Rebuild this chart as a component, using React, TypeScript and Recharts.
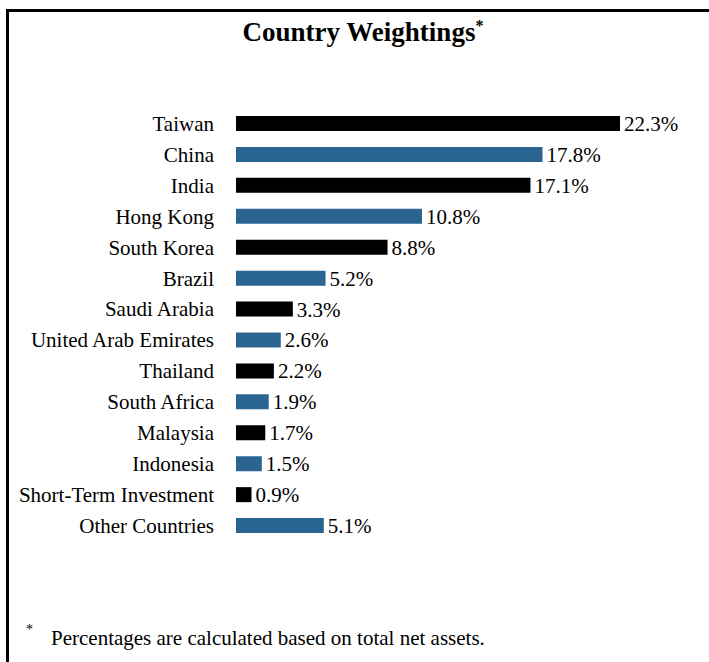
import { BarChart, Bar, XAxis, YAxis, Cell, LabelList } from 'recharts';

const countries = [
  'Taiwan',
  'China',
  'India',
  'Hong Kong',
  'South Korea',
  'Brazil',
  'Saudi Arabia',
  'United Arab Emirates',
  'Thailand',
  'South Africa',
  'Malaysia',
  'Indonesia',
  'Short-Term Investment',
  'Other Countries',
];

const weights = [22.3, 17.8, 17.1, 10.8, 8.8, 5.2, 3.3, 2.6, 2.2, 1.9, 1.7, 1.5, 0.9, 5.1];

const barColors = ['#000000', '#2a6491'];

const FONT = '"Liberation Serif", "Times New Roman", serif';

export default function App() {
  const data = countries.map((name, i) => ({ name, value: weights[i] }));

  return (
    <div
      style={{
        position: 'absolute',
        left: 0,
        top: 0,
        width: 709,
        height: 662,
        background: '#fff',
        fontFamily: FONT,
        color: '#000',
        overflow: 'hidden',
      }}
    >
      {/* box edges */}
      <div style={{ position: 'absolute', left: 6, top: 9, width: 703, height: 3, background: '#000' }} />
      <div style={{ position: 'absolute', left: 6, top: 9, width: 3, height: 653, background: '#000' }} />

      <div
        style={{
          position: 'absolute',
          left: 5,
          top: 14,
          width: 716,
          textAlign: 'center',
          fontSize: 27,
          fontWeight: 'bold',
          lineHeight: '36px',
        }}
      >
        Country Weightings
        <span style={{ fontSize: 16, verticalAlign: 'top', position: 'relative', top: -6 }}>*</span>
      </div>

      <div style={{ position: 'absolute', left: 0, top: 0 }}>
        <BarChart
          width={709}
          height={560}
          data={data}
          layout="vertical"
          margin={{ top: 108, right: 42.5, bottom: 19, left: 0 }}
        >
          <XAxis type="number" domain={[0, 25]} hide />
          <YAxis
            type="category"
            dataKey="name"
            width={236}
            axisLine={false}
            tickLine={false}
            tickSize={0}
            tickMargin={22}
            interval={0}
            tick={{ fill: '#000', fontSize: 21, fontFamily: FONT }}
          />
          <Bar dataKey="value" barSize={15} isAnimationActive={false}>
            {data.map((d, i) => (
              <Cell key={d.name} fill={barColors[i % 2]} />
            ))}
            <LabelList
              dataKey="value"
              position="right"
              offset={4}
              formatter={(v: any) => `${v}%`}
              style={{ fill: '#000', fontSize: 21, fontFamily: FONT }}
            />
          </Bar>
        </BarChart>
      </div>

      <div style={{ position: 'absolute', left: 26, top: 622, fontSize: 14 }}>*</div>
      <div style={{ position: 'absolute', left: 51, top: 625, fontSize: 21, lineHeight: '26px' }}>
        Percentages are calculated based on total net assets.
      </div>
    </div>
  );
}
